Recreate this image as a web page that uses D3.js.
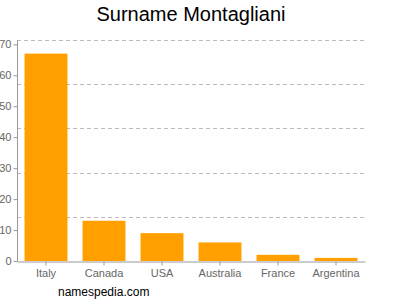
<!DOCTYPE html>
<html>
<head>
    <script src="https://cdn.jsdelivr.net/npm/d3@7"></script>
    <style>
        body { margin: 0; background: #fff; }
        svg { display: block; font-family: "Liberation Sans", Arial, sans-serif; }
    </style>
</head>
<body>
    <svg width="400" height="300"></svg>
    <script>
        // data
        const countries = ["Italy", "Canada", "USA", "Australia", "France", "Argentina"];
        const counts = [67, 13, 9, 6, 2, 1];
        const yTicks = [0, 10, 20, 30, 40, 50, 60, 70];
        const yTop = 71.4;

        const svg = d3.select("svg");
        const plotLeft = 17, plotRight = 365, plotTop = 40, plotBottom = 261;

        const x = d3.scaleBand()
            .domain(countries)
            .range([plotLeft, plotRight])
            .paddingInner(0.26)
            .paddingOuter(0.13);

        const y = d3.scaleLinear()
            .domain([0, yTop])
            .range([plotBottom, plotTop]);

        // dashed grid, five equal steps up the axis
        const grid = d3.range(1, 6).map(function(i) { return yTop * i / 5; });
        svg.append("g")
            .selectAll("line")
            .data(grid)
            .enter()
            .append("line")
                .attr("x1", plotLeft)
                .attr("x2", plotRight)
                .attr("y1", function(d) { return Math.round(y(d)) + 0.5; })
                .attr("y2", function(d) { return Math.round(y(d)) + 0.5; })
                .attr("stroke", "#bbb")
                .attr("stroke-dasharray", "4,3");

        svg.append("g")
            .selectAll("rect")
            .data(counts)
            .enter()
            .append("rect")
                .attr("x", function(d, i) { return x(countries[i]); })
                .attr("y", function(d) { return y(d); })
                .attr("width", x.bandwidth())
                .attr("height", function(d) { return plotBottom - y(d); })
                .attr("fill", "#ffa000");

        const yAxis = svg.append("g")
            .attr("transform", "translate(" + (plotLeft + 0.5) + ",0)")
            .call(d3.axisLeft(y).tickValues(yTicks).tickSize(4).tickPadding(2));

        const xAxis = svg.append("g")
            .attr("transform", "translate(0," + (plotBottom + 0.5) + ")")
            .call(d3.axisBottom(x).tickSize(4).tickPadding(4).tickSizeOuter(0));

        [yAxis, xAxis].forEach(function(a) {
            a.select(".domain").attr("stroke", "#999");
            a.selectAll(".tick line").attr("stroke", "#999");
            a.selectAll(".tick text")
                .attr("fill", "#666")
                .style("font-size", "11px")
                .style("font-family", "Liberation Sans, Arial, sans-serif");
        });
        yAxis.select(".domain").attr("d", "M0," + plotTop + "V" + plotBottom);

        svg.append("text")
            .attr("x", 191)
            .attr("y", 21)
            .attr("text-anchor", "middle")
            .style("font-size", "20px")
            .attr("fill", "#000")
            .text("Surname Montagliani");

        svg.append("text")
            .attr("x", 58)
            .attr("y", 296)
            .style("font-size", "12px")
            .attr("fill", "#000")
            .text("namespedia.com");
    </script>
</body>
</html>
